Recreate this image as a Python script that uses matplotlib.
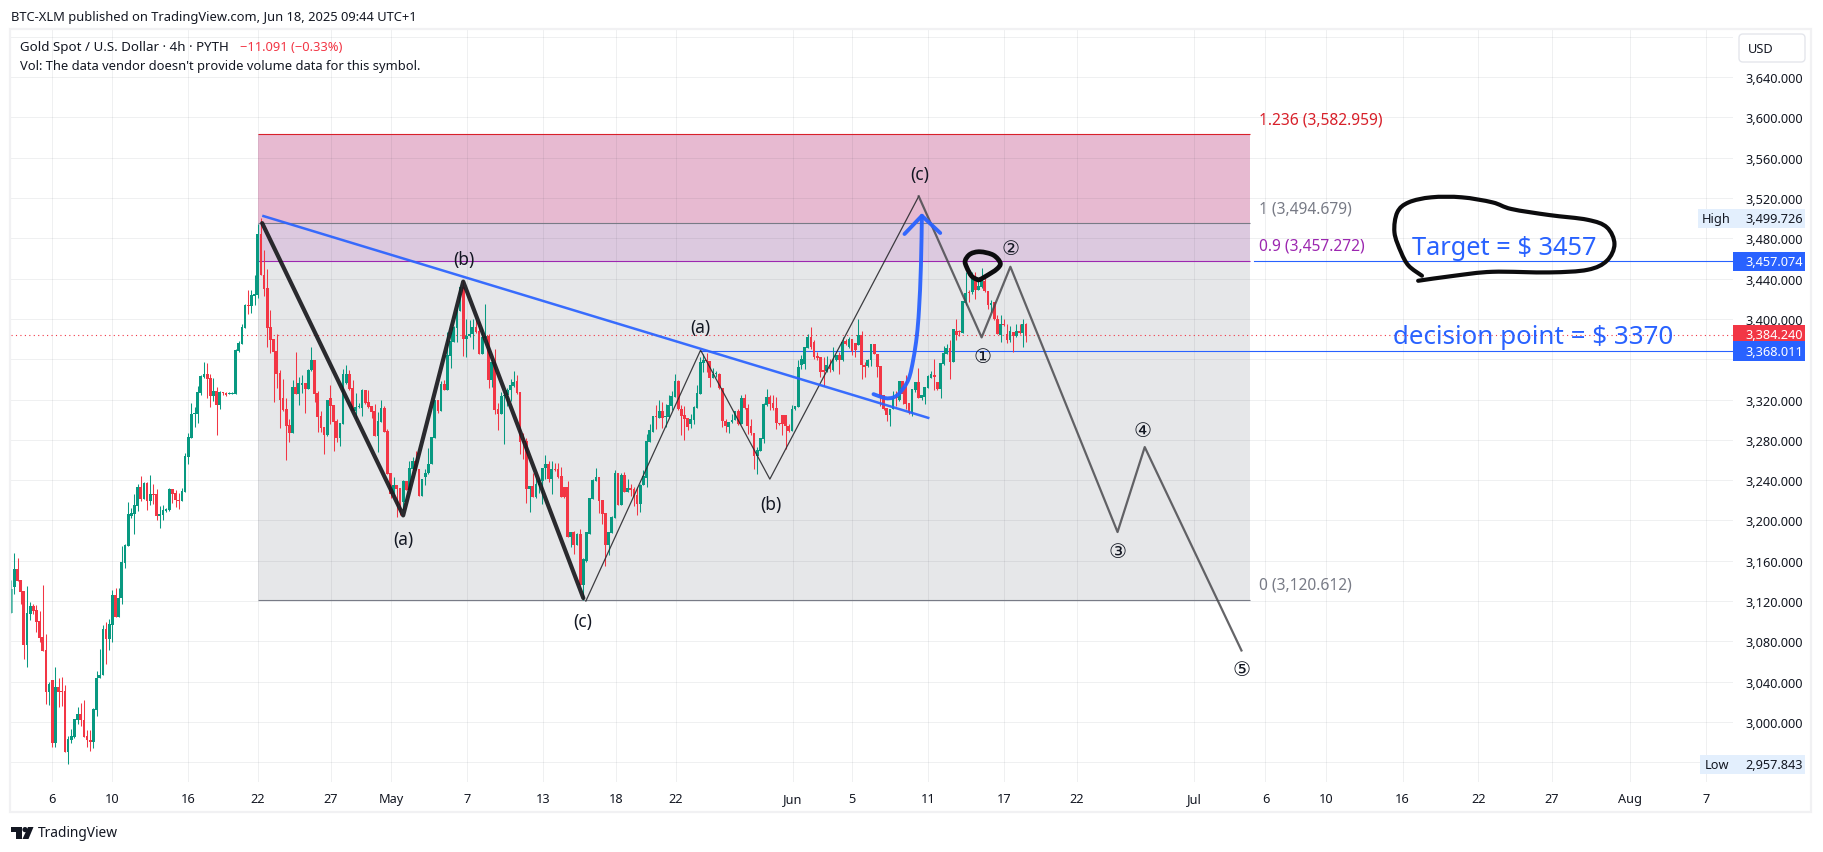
import matplotlib
matplotlib.use("Agg")
import matplotlib.pyplot as plt
from matplotlib.patches import Rectangle, FancyBboxPatch, Polygon, Circle, PathPatch
from matplotlib.path import Path

opens = [
3108,3134,3152,3141,3130,3076,3107,3115,3111,3100,
3084,3071,3030,3042,2979,3035,3031,3031,2970,2982,
2985,3002,3008,3002,2986,2982,2980,3012,3044,3047,
3092,3082,3096,3126,3104,3123,3158,3175,3204,3206,
3214,3233,3221,3237,3219,3226,3226,3204,3205,3209,
3210,3231,3227,3220,3219,3228,3263,3282,3306,3306,
3326,3342,3345,3341,3323,3328,3315,3327,3326,3325,
3325,3325,3368,3375,3391,3414,3413,3423,3424,3484,
3444,3431,3392,3380,3368,3346,3321,3311,3295,3287,
3332,3325,3334,3336,3330,3349,3359,3326,3304,3293,
3285,3321,3315,3299,3282,3296,3336,3345,3331,3309,
3313,3312,3329,3318,3314,3309,3284,3298,3312,3289,
3247,3226,3235,3232,3218,3239,3230,3251,3259,3251,
3224,3243,3247,3256,3282,3320,3309,3335,3329,3363,
3377,3391,3408,3432,3380,3383,3385,3392,3388,3365,
3381,3383,3339,3357,3311,3306,3323,3324,3329,3333,
3338,3327,3279,3279,3231,3234,3223,3235,3239,3252,
3256,3241,3251,3251,3244,3233,3233,3184,3189,3176,
3187,3136,3160,3187,3221,3239,3243,3220,3207,3176,
3188,3202,3247,3215,3245,3228,3232,3231,3225,3216,
3235,3242,3278,3288,3304,3302,3309,3303,3303,3314,
3322,3338,3311,3305,3302,3296,3300,3312,3325,3356,
3359,3358,3341,3345,3345,3331,3299,3293,3298,3300,
3309,3296,3321,3312,3294,3287,3264,3269,3281,3315,
3322,3317,3312,3297,3305,3305,3294,3289,3311,3313,
3354,3355,3371,3382,3377,3363,3362,3349,3348,3354,
3349,3359,3364,3359,3378,3372,3380,3376,3374,3384,
3354,3353,3359,3375,3365,3353,3324,3312,3305,3311,
3322,3320,3338,3332,3317,3307,3329,3337,3321,3322,
3331,3341,3344,3337,3330,3355,3365,3371,3357,3388,
3388,3386,3416,3427,3427,3440,3429,3432,3438,3428,
3414,3417,3400,3384,3395,3385,3379,3387,3383,3388,3386,3395]

closes = [
3132,3152,3140,3129,3076,3108,3115,3110,3099,3083,
3070,3030,3038,2979,3035,3030,3030,2970,2983,2986,
3003,3008,3002,2985,2982,2980,3013,3044,3047,3092,
3082,3097,3126,3104,3123,3159,3176,3206,3207,3215,
3233,3221,3237,3219,3226,3225,3204,3206,3210,3211,
3231,3226,3220,3219,3229,3264,3283,3306,3307,3327,
3343,3345,3340,3323,3328,3315,3327,3326,3324,3326,
3326,3369,3376,3392,3414,3413,3424,3425,3484,3444,
3430,3391,3379,3367,3345,3320,3310,3294,3287,3332,
3325,3336,3336,3330,3349,3359,3325,3303,3292,3285,
3320,3314,3298,3282,3297,3345,3345,3330,3309,3313,
3314,3329,3317,3313,3308,3284,3299,3312,3288,3246,
3226,3235,3231,3215,3239,3230,3252,3259,3251,3224,
3241,3247,3256,3283,3320,3309,3335,3329,3364,3378,
3392,3409,3432,3380,3383,3385,3392,3387,3365,3382,
3383,3339,3357,3310,3306,3323,3324,3329,3334,3337,
3326,3278,3278,3231,3234,3223,3236,3240,3252,3256,
3241,3251,3250,3243,3223,3223,3184,3189,3176,3187,
3136,3162,3189,3222,3240,3243,3219,3206,3176,3189,
3203,3247,3215,3245,3228,3232,3230,3223,3216,3235,
3244,3279,3290,3304,3303,3309,3302,3304,3315,3323,
3338,3311,3304,3301,3293,3301,3313,3326,3357,3359,
3358,3341,3345,3346,3331,3299,3294,3298,3300,3309,
3296,3321,3312,3294,3287,3264,3270,3282,3316,3322,
3316,3312,3297,3296,3296,3294,3289,3311,3314,3352,
3360,3372,3382,3372,3362,3361,3347,3347,3354,3350,
3359,3364,3359,3377,3375,3380,3368,3369,3384,3354,
3352,3359,3375,3365,3352,3322,3311,3305,3311,3321,
3321,3338,3325,3316,3307,3330,3337,3321,3324,3332,
3343,3345,3342,3330,3356,3366,3371,3357,3390,3384,
3387,3418,3426,3426,3440,3429,3433,3441,3428,3414,
3416,3400,3385,3395,3394,3379,3388,3383,3388,3386,3395,3384.24]

highs = [
3141,3168,3163,3141,3130,3135,3119,3117,3116,3110,
3136,3087,3040,3042,3055,3044,3045,3037,2986,2993,
3003,3015,3019,3022,2992,2992,3014,3051,3072,3096,
3099,3102,3131,3133,3133,3175,3177,3218,3212,3226,
3236,3244,3238,3238,3245,3236,3231,3214,3215,3212,
3232,3231,3230,3227,3232,3267,3287,3317,3313,3333,
3344,3357,3356,3345,3341,3332,3328,3327,3327,3327,
3327,3370,3378,3395,3415,3429,3429,3444,3494,3499.7,
3468,3449,3409,3380,3385,3349,3340,3321,3301,3339,
3367,3342,3344,3336,3350,3372,3359,3328,3309,3293,
3320,3334,3315,3301,3297,3350,3354,3349,3339,3326,
3317,3330,3329,3329,3314,3316,3308,3320,3314,3291,
3247,3243,3235,3232,3240,3239,3259,3263,3269,3251,
3241,3251,3272,3283,3320,3320,3338,3339,3387,3387,
3393,3412,3433,3439,3400,3399,3400,3399,3398,3391,
3415,3385,3361,3370,3317,3327,3327,3331,3340,3348,
3344,3327,3287,3282,3234,3247,3242,3242,3252,3265,
3259,3259,3257,3257,3253,3233,3239,3189,3190,3188,
3192,3163,3189,3222,3241,3252,3243,3220,3207,3189,
3204,3250,3247,3247,3248,3241,3236,3233,3233,3236,
3250,3286,3296,3304,3315,3320,3318,3316,3324,3328,
3345,3339,3315,3314,3302,3306,3314,3334,3362,3365,
3366,3358,3351,3348,3346,3331,3301,3298,3306,3309,
3311,3324,3325,3316,3301,3287,3273,3282,3317,3330,
3324,3324,3322,3297,3305,3305,3296,3315,3314,3359,
3364,3372,3385,3392,3379,3367,3362,3362,3363,3360,
3372,3364,3367,3382,3380,3382,3380,3376,3400,3388,
3357,3360,3375,3375,3365,3353,3324,3312,3311,3328,
3328,3338,3338,3344,3317,3330,3337,3351,3324,3332,
3344,3348,3360,3337,3356,3373,3375,3379,3390,3400,
3389,3418,3447,3429,3447,3447,3440,3450,3445,3428,
3419,3417,3404,3404,3400,3395,3393,3387,3395,3395,3400,3396]

lows = [
3108,3127,3140,3117,3063,3055,3101,3107,3089,3079,
3070,3018,3017,2975,2975,3015,3016,2970,2958,2979,
2984,2998,2996,2985,2975,2971,2974,3006,3044,3047,
3058,3071,3079,3104,3104,3117,3153,3175,3202,3187,
3209,3219,3221,3210,3215,3216,3200,3193,3200,3208,
3209,3217,3213,3211,3219,3228,3256,3282,3293,3297,
3324,3341,3321,3313,3319,3285,3311,3324,3323,3325,
3325,3325,3367,3375,3391,3405,3406,3414,3421,3444,
3423,3372,3366,3318,3331,3292,3309,3260,3278,3287,
3325,3315,3326,3307,3330,3348,3318,3288,3288,3266,
3284,3296,3269,3278,3274,3296,3335,3329,3309,3301,
3312,3304,3316,3312,3302,3284,3268,3298,3288,3246,
3222,3224,3203,3205,3210,3230,3230,3250,3250,3224,
3224,3235,3246,3256,3282,3307,3309,3329,3329,3351,
3377,3377,3408,3363,3362,3382,3370,3386,3365,3365,
3380,3331,3332,3306,3290,3306,3276,3314,3319,3332,
3325,3266,3261,3217,3208,3223,3222,3227,3216,3241,
3238,3226,3249,3242,3223,3222,3184,3174,3167,3176,
3136,3121,3159,3187,3221,3239,3207,3196,3155,3166,
3188,3202,3215,3215,3228,3228,3224,3214,3205,3208,
3235,3233,3278,3288,3291,3302,3292,3293,3303,3310,
3322,3310,3285,3280,3290,3292,3296,3312,3325,3347,
3347,3332,3341,3342,3330,3293,3288,3287,3297,3300,
3295,3296,3311,3286,3285,3251,3246,3269,3277,3314,
3310,3310,3291,3295,3285,3271,3288,3289,3310,3313,
3350,3350,3371,3370,3360,3359,3342,3333,3347,3347,
3348,3358,3345,3358,3374,3371,3364,3362,3374,3340,
3342,3352,3353,3365,3342,3314,3310,3299,3294,3311,
3314,3319,3316,3311,3306,3304,3327,3321,3320,3316,
3331,3341,3329,3329,3321,3354,3365,3340,3357,3379,
3383,3386,3414,3417,3425,3420,3429,3431,3427,3410,
3407,3399,3385,3377,3393,3376,3377,3367,3382,3385,3372,3377]

# time axis (bar index of each label)
time_labels = ["6","10","16","22","27","May","7","13","18","22","Jun","5","11","17","22","Jul","6","10","16","22","27","Aug","7"]
time_pos = [12.9,31.9,55.9,78.1,101.2,120.2,144.2,168.2,191.3,210.3,247.3,266,290,314,337.1,374.3,396.8,415.9,440.2,464.1,487.3,512,536.2]
month_labels = {"May","Jun","Jul","Aug"}
price_ticks = list(range(2960, 3681, 40))
hidden_price_labels = {2960, 3360, 3680}

# Fibonacci retracement
fib_levels = [3582.959, 3494.679, 3457.272, 3120.612]
fib_x = [78.1, 392.0]

# Drawings (bar index, price)
wave_thick_x = [79.4, 124, 143, 181]
wave_thick_y = [3495, 3205, 3437, 3123]
wave_thin_x = [181.8, 218.1, 240, 287.1]
wave_thin_y = [3120, 3369, 3241, 3521.6]
wave_grey_x = [287.1, 307, 316.1, 350, 358.6, 389.2]
wave_grey_y = [3521.6, 3381.6, 3451.7, 3188.5, 3272.8, 3071]
trend_x = [79.8, 290.1]
trend_y = [3502, 3301.8]
curve_x = [272.8, 276.5, 279.1, 281.2, 283.9, 285.4, 286.5, 287.2, 287.8, 288.1]
curve_y = [3325.3, 3321.4, 3322.1, 3327, 3340.2, 3360.1, 3383.2, 3409.7, 3452.7, 3502.3]
head_x = [282.6, 288.1, 293.9]
head_y = [3484.2, 3502.3, 3485.2]
ring_x = [306, 303.9, 302.3, 301.8, 303.4, 306.5, 310.7, 312.9, 311.8, 308.6, 306.5]
ring_y = [3438.5, 3442.2, 3451.1, 3457.7, 3464.3, 3466.6, 3463.3, 3455.4, 3449.4, 3442.8, 3439]
blob_x = [446.3, 442.1, 439.7, 437.6, 438.5, 442.1, 449.3, 458.9, 468.6, 474.6, 486.6, 498.7, 504.8, 507.2, 504.8, 498.7, 486.6, 468.6, 456.6, 445.1]
blob_y = [3442.8, 3452.7, 3466, 3485.8, 3505.7, 3515.6, 3520.6, 3520.6, 3515.6, 3509, 3503, 3498.3, 3490.8, 3474.2, 3457.7, 3448.7, 3446.1, 3446.7, 3442.8, 3437.8]
target_level = 3457.074
decision_level = 3368.011
last_price = 3384.24
high_price = 3499.726
low_price = 2957.843

UP = "#089981"
DOWN = "#f23645"
BLUE = "#2962ff"
INK = "#131722"
W, H = 1824, 853
AX_R = 1733
plt.rcParams["font.family"] = "Noto Sans"

fig = plt.figure(figsize=(W / 100, H / 100), dpi=100, facecolor="white")
ax = fig.add_axes([11 / W, 1 - 783 / H, (AX_R - 11) / W, (783 - 30) / H])
x_right = 544.7
ax.set_xlim(-0.06, x_right)
ax.set_ylim(2940.5, 3687.6)
for s in ax.spines.values():
    s.set_visible(False)

# grid
ax.set_yticks(price_ticks)
ax.set_yticklabels(["" if p in hidden_price_labels else f"{p:,.3f}" for p in price_ticks])
ax.set_xticks(time_pos)
ax.set_xticklabels(time_labels)
ax.yaxis.tick_right()
ax.tick_params(axis="both", length=0, labelsize=9.2, labelcolor=INK)
ax.tick_params(axis="y", pad=8.6)
ax.tick_params(axis="x", pad=7)
for lab in ax.get_xticklabels():
    if lab.get_text() in month_labels:
        lab.set_fontweight("bold")
ax.grid(True, color="#2a2e39", alpha=0.07, lw=0.72, zorder=1)
ax.set_axisbelow(True)

# fib zones
ax.fill_between(fib_x, fib_levels[1], fib_levels[0], color="#d990b5", alpha=0.62, lw=0, zorder=0.5)
ax.fill_between(fib_x, fib_levels[2], fib_levels[1], color="#a879b0", alpha=0.40, lw=0, zorder=0.5)
ax.fill_between(fib_x, fib_levels[3], fib_levels[2], color="#787b86", alpha=0.18, lw=0, zorder=0.5)
for lev, col in zip(fib_levels, ["#d8202a", "#787b86", "#9c27b0", "#787b86"]):
    ax.plot(fib_x, [lev, lev], color=col, lw=0.8, zorder=2, solid_capstyle="butt")

# horizontal lines
ax.axhline(last_price, color=DOWN, lw=0.8, ls=(0, (1, 3)), zorder=2)
ax.plot([218, x_right], [decision_level] * 2, color=BLUE, lw=0.8, zorder=2)
ax.plot([393.3, x_right], [target_level] * 2, color=BLUE, lw=0.8, zorder=2)

# candles
for i, (o, h, l, c) in enumerate(zip(opens, highs, lows, closes)):
    col = UP if c >= o else DOWN
    alpha = 0.55 if i == 0 else 1
    ax.vlines(i, l, h, color=col, lw=0.75, zorder=3, alpha=alpha)
    ax.bar(i, max(abs(c - o), 1.0), bottom=min(o, c), width=0.86, color=col, lw=0, zorder=3, alpha=alpha)


def smooth_stroke(xs, ys, color, lw, alpha=1.0, z=5):
    """Stroke a hand-drawn line through the read points as a Catmull-Rom path."""
    pts = list(zip(xs, ys))
    verts = [pts[0]]
    codes = [Path.MOVETO]
    for k in range(len(pts) - 1):
        p0 = pts[max(k - 1, 0)]
        p1 = pts[k]
        p2 = pts[k + 1]
        p3 = pts[min(k + 2, len(pts) - 1)]
        c1 = (p1[0] + (p2[0] - p0[0]) / 6, p1[1] + (p2[1] - p0[1]) / 6)
        c2 = (p2[0] - (p3[0] - p1[0]) / 6, p2[1] - (p3[1] - p1[1]) / 6)
        verts += [c1, c2, p2]
        codes += [Path.CURVE4] * 3
    ax.add_patch(PathPatch(Path(verts, codes), fc="none", ec=color, lw=lw, alpha=alpha,
                           zorder=z, capstyle="round", joinstyle="round"))


# drawings
ax.plot(wave_thick_x, wave_thick_y, color="#1a1a1e", lw=3.0, alpha=0.92, zorder=4, solid_joinstyle="round", solid_capstyle="round")
ax.plot(wave_thin_x, wave_thin_y, color="#2a2a2e", lw=0.9, alpha=0.9, zorder=4)
ax.plot(wave_grey_x, wave_grey_y, color="#4a4a4e", lw=1.6, alpha=0.85, zorder=4)
ax.plot(trend_x, trend_y, color=BLUE, lw=1.8, alpha=0.92, zorder=4.5)
smooth_stroke(curve_x, curve_y, BLUE, 2.8, 0.95)
ax.plot(head_x, head_y, color=BLUE, lw=2.8, zorder=5, alpha=0.95, solid_capstyle="round", solid_joinstyle="round")
smooth_stroke(ring_x, ring_y, "#0c0c0e", 3.4)
smooth_stroke(blob_x, blob_y, "#0c0c0e", 3.0)

# pixel overlay for chrome and text
ov = fig.add_axes([0, 0, 1, 1], zorder=10)
ov.set_xlim(0, W)
ov.set_ylim(H, 0)
ov.axis("off")
ov.patch.set_visible(False)
fig.canvas.draw()


def ypx(price):
    return H - ax.transData.transform((0, price))[1]


def txt(x, y, s, size=9.2, color=INK, ha="left", family=None, **kw):
    ov.text(x, y, s, fontsize=size, color=color, ha=ha, va="center",
            **({"family": family} if family else {}), **kw)


# frame
ov.add_patch(Rectangle((10, 29.5), 1801, 783.5, fill=False, ec="#f1f1f3", lw=1.6))
txt(11, 17, "BTC-XLM published on TradingView.com, Jun 18, 2025 09:44 UTC+1", 9.3)
txt(20, 47, "Gold Spot / U.S. Dollar · 4h · PYTH", 9.6)
txt(240, 47, "−11.091 (−0.33%)", 9.3, color=DOWN)
txt(20, 66, "Vol: The data vendor doesn't provide volume data for this symbol.", 9.3)

# fib labels
txt(1259, 120, "1.236 (3,582.959)", 11.2, color="#d8202a")
txt(1259, 209, "1 (3,494.679)", 11.2, color="#787b86")
txt(1259, 246, "0.9 (3,457.272)", 11.2, color="#9c27b0")
txt(1259, 585, "0 (3,120.612)", 11.2, color="#787b86")

# wave labels
for x, y, s in [(920, 175, "(c)"), (463.5, 260, "(b)"), (403.5, 540, "(a)"), (583, 622, "(c)"),
                (700.7, 328, "(a)"), (770.7, 505, "(b)")]:
    txt(x, y, s, 12.5, ha="center")
for x, y, s in [(982.3, 357.7, "①"), (1010.3, 249.3, "②"), (1117.7, 552, "③"), (1143, 431.7, "④"), (1241.5, 670.7, "⑤")]:
    txt(x, y, s, 14.5, ha="center", family="DejaVu Sans")

# hand annotations
txt(1412, 248.5, "Target = $ 3457", 18.3, color=BLUE)
txt(1393, 337.5, "decision point = $ 3370", 18.7, color=BLUE)

# USD box
ov.add_patch(FancyBboxPatch((1741, 37), 62, 24, boxstyle="round,pad=2,rounding_size=4", fc="white", ec="#e4e6ec", lw=1))
txt(1748, 49, "USD", 9.2)


# price tags
def tag(price, text, fc, tc="white", weight="normal"):
    y = ypx(price)
    ov.add_patch(Rectangle((AX_R + 0.5, y - 9.7), 71.5, 19.4, fc=fc, ec="none"))
    txt(1774, y, text, 9.2, color=tc, ha="center", fontweight=weight)


LIGHT = "#e3effd"
y_high = ypx(high_price)
ov.add_patch(Rectangle((1698, y_high - 9.5), 35, 19, fc=LIGHT, ec="none"))
txt(1716, y_high, "High", 9.2, ha="center")
tag(high_price, "3,499.726", LIGHT, INK)
y_low = ypx(low_price)
ov.add_patch(Rectangle((1700, y_low - 9.5), 33, 19, fc=LIGHT, ec="none"))
txt(1717, y_low, "Low", 9.2, ha="center")
tag(low_price, "2,957.843", LIGHT, INK)
tag(target_level, "3,457.074", BLUE)
tag(last_price, "3,384.240", DOWN)
tag(decision_level, "3,368.011", BLUE)

# logo
ov.add_patch(Polygon([(11, 828), (22, 828), (22, 840), (16.5, 840), (16.5, 833), (11, 833)], fc=INK, ec="none"))
ov.add_patch(Circle((25, 830.6), 2.6, fc=INK, ec="none"))
ov.add_patch(Polygon([(28, 828), (33.5, 828), (28.5, 840), (22.5, 840)], fc=INK, ec="none"))
txt(38, 834, "TradingView", 9.9)

fig.savefig("out.png", dpi=100, facecolor="white")
